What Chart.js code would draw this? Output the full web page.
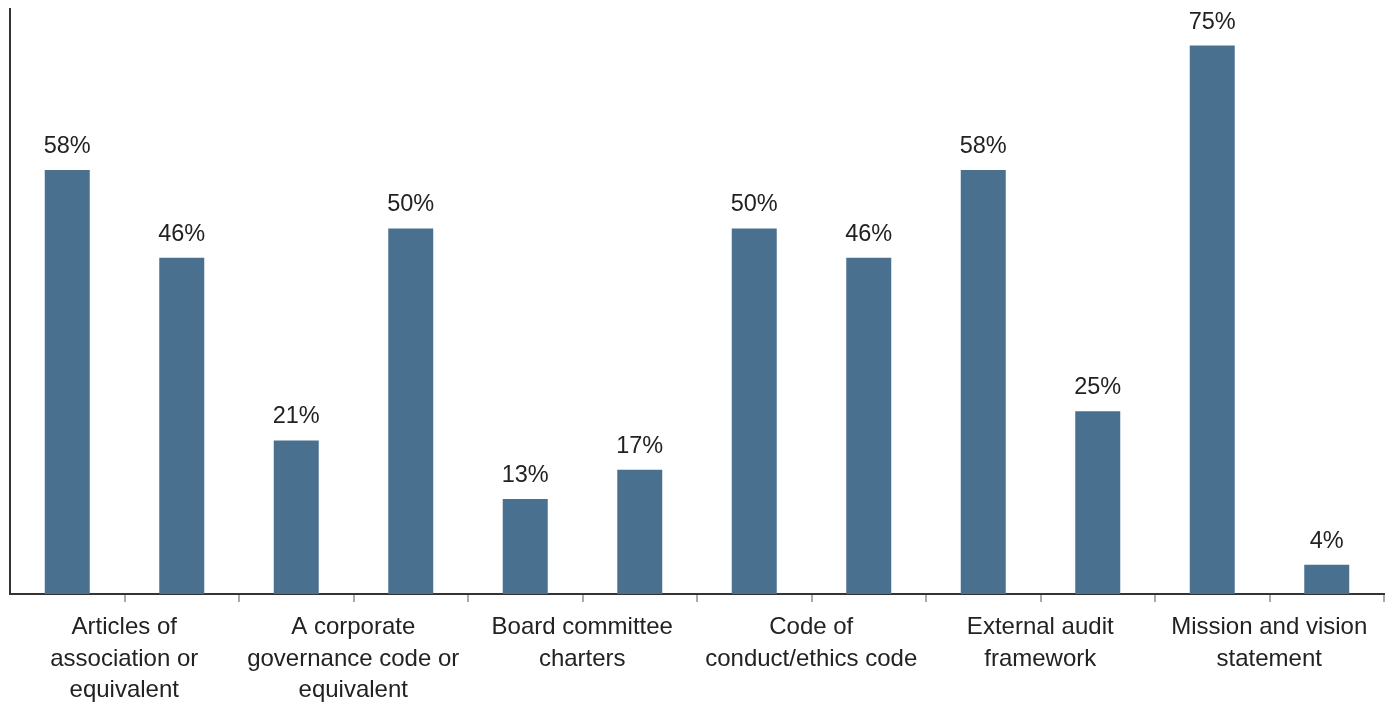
<!DOCTYPE html>
<html>
<head>
<meta charset="utf-8">
<script src="https://cdn.jsdelivr.net/npm/chart.js@4/dist/chart.umd.min.js"></script>
<style>
  html, body { margin: 0; padding: 0; background: #fff; }
  #wrap { width: 1391px; height: 702px; position: relative; }
</style>
</head>
<body>
<div id="wrap"><canvas id="docChart"></canvas></div>
<script>
// Document types, two bars per group
const groups = [
    ['Articles of', 'association or', 'equivalent'],
    ['A corporate', 'governance code or', 'equivalent'],
    ['Board committee', 'charters'],
    ['Code of', 'conduct/ethics code'],
    ['External audit', 'framework'],
    ['Mission and vision', 'statement']
];
const shares = [58, 46, 21, 50, 13, 17, 50, 46, 58, 25, 75, 4];
const slots = shares.map((v, i) => 'slot' + i);

const FONT = '"Liberation Sans", Arial, Helvetica, sans-serif';

// Percent labels above every bar
const valueLabels = {
    id: 'valueLabels',
    afterDatasetsDraw(chart) {
        const ctx = chart.ctx;
        const meta = chart.getDatasetMeta(0);
        ctx.save();
        ctx.font = '23.5px ' + FONT;
        ctx.fillStyle = '#222';
        ctx.textAlign = 'center';
        ctx.textBaseline = 'alphabetic';
        meta.data.forEach((bar, i) => {
            ctx.fillText(shares[i] + '%', bar.x, bar.y - 17);
        });
        ctx.restore();
    }
};

new Chart(document.getElementById('docChart'), {
    type: 'bar',
    data: {
        labels: slots,
        datasets: [{
            data: shares,
            backgroundColor: '#4a7090',
            categoryPercentage: 1,
            barPercentage: 0.393
        }]
    },
    options: {
        responsive: true,
        maintainAspectRatio: false,
        animation: false,
        layout: { padding: { left: 10, right: 7, top: 9, bottom: 0 } },
        plugins: {
            legend: { display: false },
            tooltip: { enabled: false }
        },
        scales: {
            x: {
                offset: true,
                afterFit(scale) {
                    scale.height = 108;
                    scale.paddingLeft = 0;
                    scale.paddingRight = 0;
                },
                border: { display: true, color: '#333', width: 2 },
                grid: {
                    offset: true,
                    drawOnChartArea: false,
                    drawTicks: true,
                    tickLength: 8,
                    lineWidth: 2,
                    color: c => c.index === 0 ? 'rgba(0,0,0,0)' : '#aaa',
                    tickColor: c => c.index === 0 ? 'rgba(0,0,0,0)' : '#aaa'
                },
                ticks: {
                    autoSkip: false,
                    maxRotation: 0,
                    minRotation: 0,
                    labelOffset: 57,
                    padding: 10,
                    color: '#222',
                    font: { family: FONT, size: 24, lineHeight: 1.31 },
                    callback: (v, i) => i % 2 === 0 ? groups[i / 2] : ''
                }
            },
            y: {
                min: 0,
                max: 80,
                afterFit(scale) { scale.width = 0; },
                border: { display: true, color: '#333', width: 2 },
                grid: { display: false },
                ticks: { display: false }
            }
        }
    },
    plugins: [valueLabels]
});
</script>
</body>
</html>
